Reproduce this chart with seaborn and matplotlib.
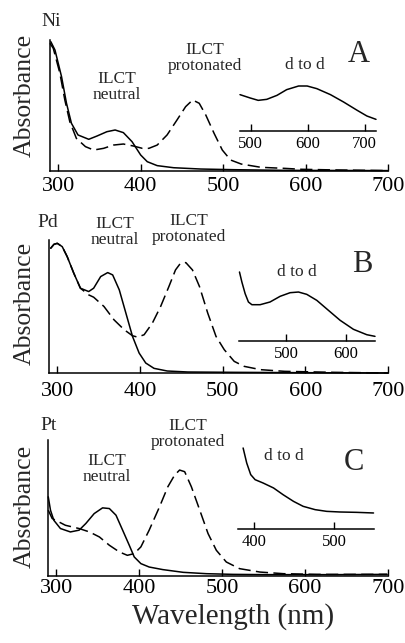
import matplotlib
matplotlib.use("Agg")
import matplotlib.pyplot as plt
import seaborn as sns
import pandas as pd

# ---- data (nm, absorbance in axis fractions) ----
ni_neu_nm = [291, 296, 304, 310, 316, 324, 337, 347, 359, 369, 379, 389.5, 400,
             408, 420, 440, 473, 513, 573, 700]
ni_neu_ab = [0.987, 0.924, 0.72, 0.517, 0.364, 0.275, 0.242, 0.267, 0.30, 0.313,
             0.293, 0.224, 0.122, 0.071, 0.041, 0.025, 0.015, 0.010, 0.005, 0.003]
ni_pro_nm = [290, 294, 302, 308, 314, 322, 333, 343, 355, 367, 379, 391, 402, 410,
             420, 432, 444, 454.5, 463, 471, 479, 489, 499, 509, 522, 546, 575,
             595, 636, 700]
ni_pro_ab = [0.975, 0.936, 0.746, 0.542, 0.377, 0.249, 0.186, 0.160, 0.173, 0.198,
             0.206, 0.191, 0.173, 0.173, 0.198, 0.275, 0.389, 0.491, 0.542, 0.517,
             0.427, 0.288, 0.160, 0.084, 0.053, 0.028, 0.020, 0.013, 0.008, 0.003]
ni_dd_nm = [481, 499, 513, 528, 546, 563, 584, 599, 616, 640, 663, 687, 704, 720]
ni_dd_ab = [0.727, 0.66, 0.613, 0.633, 0.713, 0.827, 0.9, 0.9, 0.847, 0.727,
            0.58, 0.413, 0.3, 0.233]

pd_neu_nm = [292, 296, 300, 306, 312, 320, 328, 338, 344, 352.5, 361, 367, 375,
             383, 391, 399, 407, 417, 433, 458, 514, 595, 700]
pd_neu_ab = [0.9375, 0.9675, 0.975, 0.95, 0.875, 0.75, 0.6375, 0.6125, 0.6375,
             0.725, 0.755, 0.7375, 0.625, 0.45, 0.275, 0.15, 0.075, 0.035, 0.015,
             0.0075, 0.005, 0.0025, 0.0]
pd_pro_nm = [292, 296, 300, 306, 312, 320, 328, 338, 344, 356.5, 368.6, 381, 391,
             397, 405, 415, 425, 435, 443, 449, 455.5, 463.5, 472, 482, 492, 502,
             514, 526, 546, 575, 635, 700]
pd_pro_ab = [0.9375, 0.9675, 0.975, 0.95, 0.875, 0.75, 0.6375, 0.5875, 0.57, 0.5,
             0.4, 0.325, 0.28, 0.27, 0.2875, 0.375, 0.5, 0.65, 0.775, 0.825, 0.83,
             0.775, 0.65, 0.45, 0.275, 0.175, 0.0875, 0.05, 0.025, 0.0125, 0.005,
             0.0]
pd_dd_nm = [421.8, 425.8, 431.3, 436.8, 442.6, 456.4, 473, 490, 506.7, 520.7,
            534.6, 551.4, 570.9, 590.5, 612.8, 635.2, 649]
pd_dd_ab = [0.92, 0.787, 0.631, 0.52, 0.484, 0.484, 0.52, 0.596, 0.644, 0.653,
            0.622, 0.542, 0.409, 0.276, 0.156, 0.084, 0.062]

pt_neu_nm = [290.3, 293, 297, 305, 317, 327.5, 335.6, 345.7, 355.8, 364, 372,
             380, 388, 394, 402, 412, 428.5, 453, 481, 513, 554, 635, 699]
pt_neu_ab = [0.582, 0.484, 0.41, 0.349, 0.324, 0.337, 0.386, 0.459, 0.501, 0.496,
             0.447, 0.337, 0.226, 0.14, 0.091, 0.066, 0.047, 0.027, 0.017, 0.012,
             0.01, 0.01, 0.012]
pt_pro_nm = [290.3, 295, 303, 311, 327.5, 340, 352, 364, 376, 385.7, 394, 402,
             412, 424.5, 434.5, 442.7, 448.7, 454.8, 462.9, 473, 483, 493, 505,
             521, 545.6, 574, 614, 699]
pt_pro_ab = [0.484, 0.423, 0.398, 0.373, 0.349, 0.324, 0.287, 0.226, 0.177, 0.152,
             0.165, 0.214, 0.337, 0.509, 0.656, 0.742, 0.779, 0.767, 0.656, 0.484,
             0.312, 0.189, 0.103, 0.054, 0.029, 0.017, 0.012, 0.012]
pt_dd_nm = [386, 390.5, 395.5, 401, 411, 424, 436, 449, 461, 476, 490.5, 507,
            528, 549]
pt_dd_ab = [0.9, 0.733, 0.604, 0.548, 0.511, 0.456, 0.381, 0.307, 0.252, 0.215,
            0.196, 0.189, 0.185, 0.178]

main_ticks = [300, 400, 500, 600, 700]
inset_ticks = [[500, 600, 700], [500, 600], [400, 500]]
metals = ["Ni", "Pd", "Pt"]
panel_letters = ["A", "B", "C"]

sns.set_style("white")
plt.rcParams["font.family"] = ["Liberation Serif", "DejaVu Serif"]

W, H = 406, 643
fig = plt.figure(figsize=(W / 100, H / 100), dpi=100)


def px_axes(left, top, right, bottom):
    return fig.add_axes([left / W, 1 - bottom / H, (right - left) / W,
                         (bottom - top) / H])


def px_text(x, y, s, size, **kw):
    fig.text(x / W, 1 - y / H, s, fontsize=size, ha="center", va="center",
             linespacing=1.0, **kw)


def style_axes(ax, ticks, size, pad):
    sns.despine(ax=ax, top=True, right=True)
    for s in ["left", "bottom"]:
        ax.spines[s].set_color("black")
        ax.spines[s].set_linewidth(1.1)
    ax.set_xticks(ticks)
    ax.set_xticklabels([str(t) for t in ticks])
    ax.tick_params(axis="x", direction="in", length=5, width=1.0,
                   labelsize=size, pad=pad, colors="black", bottom=True)
    ax.set_yticks([])
    ax.set_xlabel("")
    ax.set_ylabel("")


def curve(ax, nm, ab, dashed=False):
    df = pd.DataFrame({"nm": nm, "ab": ab})
    ls = (0, (8, 3.5)) if dashed else "-"
    sns.lineplot(data=df, x="nm", y="ab", ax=ax, color="black", lw=1.1,
                 linestyle=ls, sort=False, clip_on=False)


main_boxes = [(50, 40, 388, 171), (49, 240, 388, 373), (48, 440, 388, 576)]
main_pads = [4, 6.5, 2]
inset_boxes = [(240, 81, 376, 131), (239, 266, 375, 341), (238, 439, 374, 529)]
inset_xlims = [(481, 720), (421, 649), (379.6, 549.6)]
neu = [(ni_neu_nm, ni_neu_ab), (pd_neu_nm, pd_neu_ab), (pt_neu_nm, pt_neu_ab)]
pro = [(ni_pro_nm, ni_pro_ab), (pd_pro_nm, pd_pro_ab), (pt_pro_nm, pt_pro_ab)]
dd = [(ni_dd_nm, ni_dd_ab), (pd_dd_nm, pd_dd_ab), (pt_dd_nm, pt_dd_ab)]

for i in range(3):
    ax = px_axes(*main_boxes[i])
    curve(ax, *pro[i], dashed=True)
    curve(ax, *neu[i])
    ax.set_xlim(290, 700)
    ax.set_ylim(0, 1)
    style_axes(ax, main_ticks, 16, main_pads[i])
    ax.spines["left"].set_bounds(0, 1)

    ins = px_axes(*inset_boxes[i])
    curve(ins, *dd[i])
    ins.set_xlim(*inset_xlims[i])
    ins.set_ylim(0, 1)
    style_axes(ins, inset_ticks[i], 12, 3.5)
    ins.spines["left"].set_visible(False)
    ins.patch.set_alpha(0)

# panel texts
metal_pos = [(51, 22), (48, 222), (49, 425)]
letter_pos = [(359, 54), (362, 264), (354, 462)]
neu_pos = [(117, 87), (115, 232), (107, 469)]
pro_pos = [(205, 58), (189, 229), (188, 434)]
dd_pos = [(305, 65), (297, 272), (284, 456)]
absorb_y = [95, 303, 506]

for i in range(3):
    px_text(*metal_pos[i], metals[i], 14)
    px_text(*letter_pos[i], panel_letters[i], 22)
    px_text(*neu_pos[i], "ILCT\nneutral", 12.5)
    px_text(*pro_pos[i], "ILCT\nprotonated", 12.5)
    px_text(*dd_pos[i], "d to d", 12.5)
    px_text(25, absorb_y[i], "Absorbance", 18.5, rotation=90)

px_text(233, 617, "Wavelength (nm)", 21)

fig.savefig("out.png", dpi=100)
